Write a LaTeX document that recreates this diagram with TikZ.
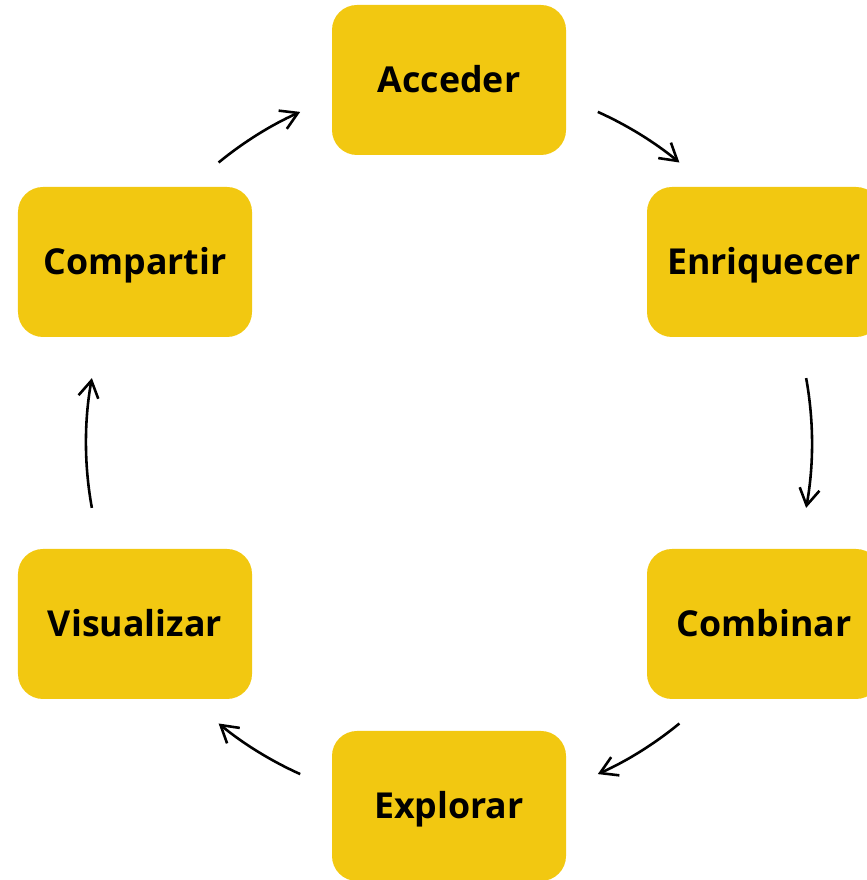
\documentclass[tikz,border=0pt]{standalone}
\usepackage{fontspec}
\setmainfont{Open Sans}
\usepackage{tikz}
\usetikzlibrary{arrows.meta}
\definecolor{pbi_yellow}{RGB}{242,200,17}
\tikzset{
  stage/.style={fill=pbi_yellow, rounded corners=7.5mm, minimum width=70.2mm,
    minimum height=45mm, inner sep=0pt, text height=7.6mm, text depth=0pt,
    font=\fontsize{30.5}{33}\selectfont\bfseries},
  cyc/.style={-{Straight Barb[length=5mm,width=6mm]}, line width=2.2pt}
}
\begin{document}
\begin{tikzpicture}[x=0.3mm,y=0.3mm]
            \useasboundingbox (0,0) rectangle (866,880);
            %ステージ
            \node[stage] (acceder) at (449,800) {Acceder};
            \node[stage] (enriquecer) at (764,618) {Enriquecer};
            \node[stage] (combinar) at (764,256) {Combinar};
            \node[stage] (explorar) at (449,74) {Explorar};
            \node[stage] (visualizar) at (135,256) {Visualizar};
            \node[stage] (compartir) at (135,618) {Compartir};
            %円弧の矢印
            \coordinate (hub) at (449,437);
            \draw[cyc] ([shift={(129.4:363)}]hub) arc[start angle=129.4, end angle=114.2, radius=363];
            \draw[cyc] ([shift={(65.8:363)}]hub) arc[start angle=65.8, end angle=50.6, radius=363];
            \draw[cyc] ([shift={(10.3:363)}]hub) arc[start angle=10.3, end angle=-10.3, radius=363];
            \draw[cyc] ([shift={(-50.6:363)}]hub) arc[start angle=-50.6, end angle=-65.8, radius=363];
            \draw[cyc] ([shift={(-114.2:363)}]hub) arc[start angle=-114.2, end angle=-129.4, radius=363];
            \draw[cyc] ([shift={(190.3:363)}]hub) arc[start angle=190.3, end angle=169.7, radius=363];
        \end{tikzpicture}
\end{document}
